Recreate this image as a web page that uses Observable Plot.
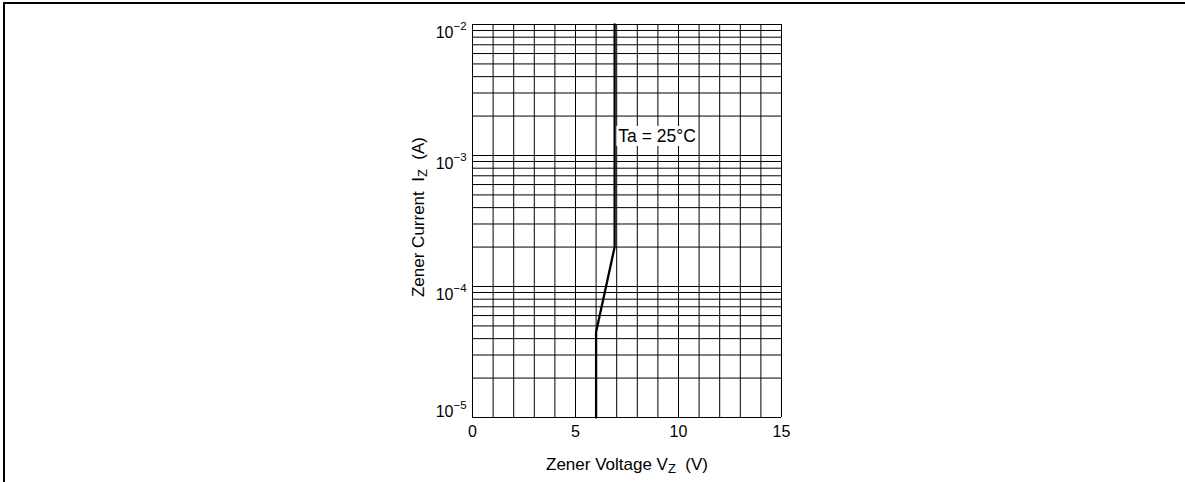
<!DOCTYPE html>
<html><head><meta charset="utf-8">
<script src="https://cdn.jsdelivr.net/npm/d3@7"></script>
<script src="https://cdn.jsdelivr.net/npm/@observablehq/plot@0.6"></script>
<style>
html,body{margin:0;padding:0;background:#fff;overflow:hidden;}
#wrap{position:relative;width:1185px;height:482px;overflow:hidden;}
#border{position:absolute;left:3px;top:2px;width:3000px;height:3000px;border-top:2px solid #000;border-left:2px solid #000;pointer-events:none;}
#chart{position:absolute;left:0;top:0;}
svg text{white-space:pre;}
</style></head><body>
<div id="wrap"><div id="border"></div><div id="chart"></div></div>
<script>
// Curve: Zener voltage (V) vs Zener current (A)
const voltage = [6.0, 6.0, 6.9, 6.9];
const current = [1e-5, 4.5e-5, 2e-4, 1e-2];

// Grid lines
const xGrid = [0,1,2,3,4,5,6,7,8,9,10,11,12,13,14,15];
const yGrid = [1e-5,2e-5,3e-5,4e-5,5e-5,6e-5,7e-5,8e-5,9e-5,
               1e-4,2e-4,3e-4,4e-4,5e-4,6e-4,7e-4,8e-4,9e-4,
               1e-3,2e-3,3e-3,4e-3,5e-3,6e-3,7e-3,8e-3,9e-3,1e-2];

// Tick labels
const xTicks = [0, 5, 10, 15];
const yTicks = [1e-5, 1e-4, 1e-3, 1e-2];
const yTickBase = ["10", "10", "10", "10"];
const yTickExp = ["\u22125", "\u22124", "\u22123", "\u22122"];

// Annotation
const annotationText = ["Ta = 25\u00B0C"];
const annotationV = [7.08];
const annotationI = [1.4e-3];

// Axis titles (main text, subscript, rest)
const xTitleParts = ["Zener Voltage V", "Z", "  (V)"];
const yTitleParts = ["Zener Current  I", "Z", "  (A)"];

const curve = voltage.map((v, i) => ({v, i: current[i]}));
const yLabels = yTicks.map((v, i) => ({v, base: yTickBase[i], exp: yTickExp[i]}));
const notes = annotationText.map((t, k) => ({t, v: annotationV[k], i: annotationI[k]}));
const bottomTick = yTicks[0];

const font = "'Liberation Sans', Arial, Helvetica, sans-serif";
const gridColor = "#000";

const svg = Plot.plot({
  width: 1185, height: 482,
  marginLeft: 472, marginRight: 404, marginTop: 24, marginBottom: 65,
  x: {domain: [0, 15], axis: null},
  y: {type: "log", domain: [1e-5, 1e-2], axis: null},
  style: {fontFamily: font, background: "transparent", color: "#000"},
  marks: [
    Plot.ruleX(xGrid, {x: d => d, stroke: gridColor, strokeWidth: 1}),
    Plot.ruleY(yGrid, {y: d => d, stroke: gridColor, strokeWidth: 1}),
    Plot.line(curve, {x: "v", y: "i", stroke: "#000", strokeWidth: 2.3}),
    // x tick labels
    Plot.text(xTicks, {x: d => d, frameAnchor: "bottom", lineAnchor: "middle", dy: 14, fontSize: 16, fill: "#000"}),
    // y tick labels: base "10"
    Plot.text(yLabels, {filter: d => d.v !== bottomTick, y: "v", text: "base", frameAnchor: "left", lineAnchor: "middle", dx: -19, dy: 8, textAnchor: "end", fontSize: 16, fill: "#000"}),
    Plot.text(yLabels, {filter: d => d.v === bottomTick, y: "v", text: "base", frameAnchor: "left", lineAnchor: "middle", dx: -19, dy: -6, textAnchor: "end", fontSize: 16, fill: "#000"}),
    // y tick labels: exponents
    Plot.text(yLabels, {filter: d => d.v !== bottomTick, y: "v", text: "exp", frameAnchor: "left", lineAnchor: "middle", dx: -19, dy: 2, textAnchor: "start", fontSize: 11.5, fill: "#000"}),
    Plot.text(yLabels, {filter: d => d.v === bottomTick, y: "v", text: "exp", frameAnchor: "left", lineAnchor: "middle", dx: -19, dy: -12, textAnchor: "start", fontSize: 11.5, fill: "#000"}),
    // annotation
    Plot.text(notes, {x: "v", y: "i", text: "t", textAnchor: "start", lineAnchor: "middle", fontSize: 17.5, fill: "#000"}),
    // axis titles
    Plot.text([xTitleParts.join("")], {frameAnchor: "bottom", textAnchor: "middle", lineAnchor: "middle", dy: 47, fontSize: 17, fill: "#000"}),
    Plot.text([yTitleParts.join("")], {frameAnchor: "left", textAnchor: "middle", lineAnchor: "middle", dx: -54, dy: -4, rotate: -90, fontSize: 17, fill: "#000"})
  ]
});

document.getElementById("chart").appendChild(svg);

// subscript for axis titles
function subscriptify(parts, subSize, subDy) {
  const full = parts.join("");
  d3.select(svg).selectAll("text").filter(function() { return this.textContent === full; }).each(function() {
    const t = d3.select(this);
    t.text(null);
    t.append("tspan").text(parts[0]);
    t.append("tspan").attr("font-size", subSize).attr("dy", subDy).text(parts[1]);
    t.append("tspan").attr("dy", -subDy).text(parts[2]);
  });
}
subscriptify(xTitleParts, 13, 3);
subscriptify(yTitleParts, 13, 3);

// white box behind the annotation
d3.select(svg).selectAll("text").filter(function() { return annotationText.includes(this.textContent); }).each(function() {
  const b = this.getBBox();
  const r = document.createElementNS("http://www.w3.org/2000/svg", "rect");
  r.setAttribute("x", b.x - 2);
  r.setAttribute("y", b.y);
  r.setAttribute("width", b.width + 4);
  r.setAttribute("height", b.height);
  r.setAttribute("fill", "#fff");
  const tr = this.getAttribute("transform");
  if (tr) r.setAttribute("transform", tr);
  this.parentNode.insertBefore(r, this);
});
</script>
</body></html>
